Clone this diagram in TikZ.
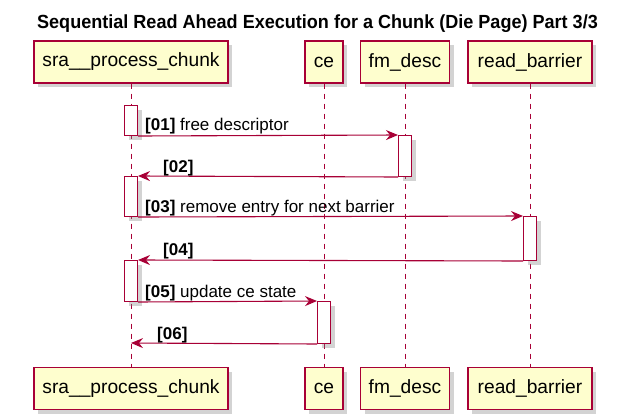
\documentclass[tikz,border=0pt]{standalone}
\usepackage{fontspec}
\setmainfont{Liberation Sans}
\usetikzlibrary{arrows.meta}
\usetikzlibrary{shadows}

\definecolor{umlred}{HTML}{A80036}
\definecolor{umlfill}{HTML}{FEFECE}

\tikzset{
  actor/.style = {draw=umlred, fill=umlfill, line width=1.2pt, minimum height=42pt,
    inner xsep=0pt, font=\fontsize{19.2}{21}\selectfont,
    drop shadow={shadow xshift=4pt, shadow yshift=-4pt, opacity=0.35}},
  lifeline/.style = {draw=umlred, line width=1pt, dash pattern=on 5pt off 5pt},
  activation/.style = {draw=umlred, fill=white, line width=1pt, minimum width=13pt,
    inner sep=0pt, anchor=north,
    drop shadow={shadow xshift=4pt, shadow yshift=-4pt, opacity=0.35}},
  msg/.style = {draw=umlred, line width=1.1pt, -{Stealth[length=12pt,width=10pt,inset=4pt]}},
  msglabel/.style = {anchor=base west, inner sep=0pt, font=\fontsize{17}{19}\selectfont}
}

\begin{document}
\begin{tikzpicture}[x=1pt, y=-1pt]
      \useasboundingbox (0,0) rectangle (635,413);

      \node[anchor=base, inner sep=0pt, font=\bfseries\fontsize{19}{21}\selectfont] (title) at (317.5,28)
        {\scalebox{0.95}[1]{Sequential Read Ahead Execution for a Chunk (Die Page) Part 3/3}};

      % participants, top and bottom
      \node[actor, minimum width=194pt] (sraTop) at (131,62) {sra\_\_process\_chunk};
      \node[actor, minimum width=38pt] (ceTop) at (324,62) {ce};
      \node[actor, minimum width=89pt] (fmTop) at (405,62) {fm\_desc};
      \node[actor, minimum width=124pt] (rbTop) at (530,62) {read\_barrier};

      \node[actor, minimum width=194pt] (sraBot) at (131,388.5) {sra\_\_process\_chunk};
      \node[actor, minimum width=38pt] (ceBot) at (324,388.5) {ce};
      \node[actor, minimum width=89pt] (fmBot) at (405,388.5) {fm\_desc};
      \node[actor, minimum width=124pt] (rbBot) at (530,388.5) {read\_barrier};

      \draw[lifeline] (sraTop.south) -- (sraBot.north);
      \draw[lifeline] (ceTop.south) -- (ceBot.north);
      \draw[lifeline] (fmTop.south) -- (fmBot.north);
      \draw[lifeline] (rbTop.south) -- (rbBot.north);

      % activation bars
      \node[activation, minimum height=30pt] (a1) at (131,105) {};
      \node[activation, minimum height=41pt] (a2) at (405,135) {};
      \node[activation, minimum height=40pt] (a3) at (131,176) {};
      \node[activation, minimum height=44pt] (a4) at (530,216) {};
      \node[activation, minimum height=41pt] (a5) at (131,260) {};
      \node[activation, minimum height=42pt] (a6) at (324,301) {};
      \coordinate (r6) at (131,343);

      % messages
      \draw[msg] (a1.south east) -- (a2.north west);
      \draw[msg] (a2.south west) -- (a3.north east);
      \draw[msg] (a3.south east) -- (a4.north west);
      \draw[msg] (a4.south west) -- (a5.north east);
      \draw[msg] (a5.south east) -- (a6.north west);
      \draw[msg] (a6.south west) -- (r6);

      \node[msglabel] (l1) at (145,130) {\textbf{[01]} free descriptor};
      \node[msglabel] (l2) at (163,172) {\textbf{[02]}};
      \node[msglabel] (l3) at (145,212) {\textbf{[03]} remove entry for next barrier};
      \node[msglabel] (l4) at (163,255) {\textbf{[04]}};
      \node[msglabel] (l5) at (145,297) {\textbf{[05]} update ce state};
      \node[msglabel] (l6) at (157,339) {\textbf{[06]}};

    \end{tikzpicture}
\end{document}
